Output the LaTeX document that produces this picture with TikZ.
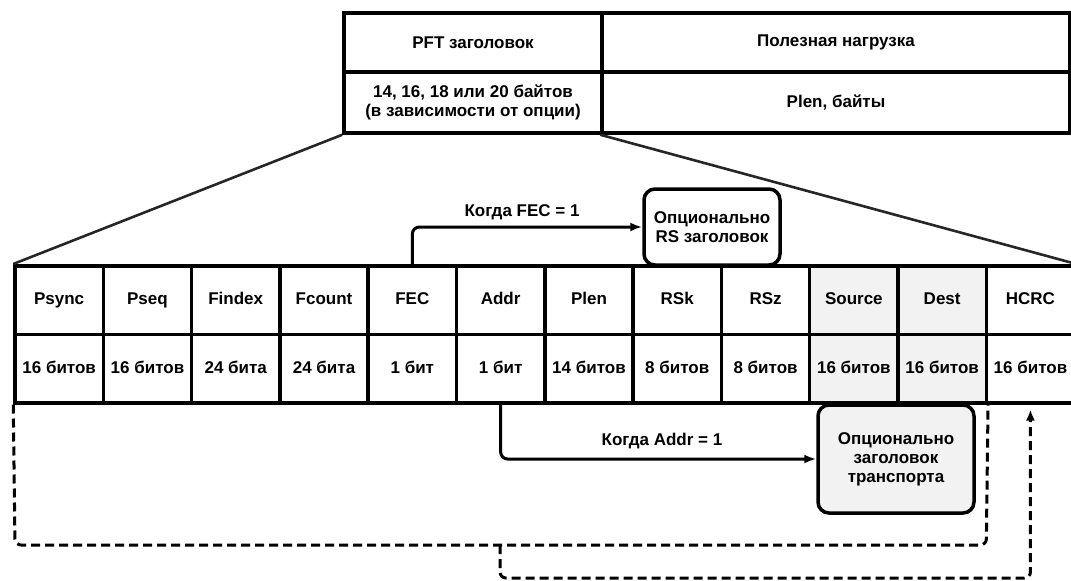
\documentclass[tikz,border=0pt]{standalone}
\usepackage{fontspec}
\setmainfont{Liberation Sans}
\usetikzlibrary{arrows.meta}
\begin{document}
\begin{tikzpicture}[x=1pt,y=-1pt,
  txt/.style={font=\bfseries\fontsize{17}{19}\selectfont},
  cell/.style={draw, line width=3.5pt, inner sep=0pt, align=center, txt},
  mcell/.style={cell, minimum width=88.3pt, minimum height=68.5pt, text height=12.5pt, text depth=3.5pt},
  shade/.style={fill=gray!10},
  optbox/.style={draw, line width=3.5pt, rounded corners=11pt, align=center, inner sep=0pt, txt},
  conn/.style={line width=3pt, rounded corners=7pt, -{Latex[length=12pt,width=9pt]}},
  dashline/.style={line width=3pt, dash pattern=on 9pt off 5pt, rounded corners=6pt},
  fan/.style={line width=2.6pt, black!85}
]
\useasboundingbox (0,0) rectangle (1071,581);

% top table
\node[cell, minimum width=258pt, minimum height=59pt] (pfth) at (473,42.5) {PFT заголовок};
\node[cell, minimum width=468pt, minimum height=59pt] (payh) at (836,42.5) {Полезная нагрузка};
\node[cell, minimum width=258pt, minimum height=61pt] (pftv) at (473,102.5) {14, 16, 18 или 20 байтов\\(в зависимости от опции)};
\node[cell, minimum width=468pt, minimum height=61pt] (payv) at (836,102.5) {Plen, байты};

% main table
\foreach \n/\lab/\val/\s [count=\i from 0] in {
  psync/Psync/16 битов/,
  pseq/Pseq/16 битов/,
  findex/Findex/24 бита/,
  fcount/Fcount/24 бита/,
  fec/FEC/1 бит/,
  addr/Addr/1 бит/,
  plen/Plen/14 битов/,
  rsk/RSk/8 битов/,
  rsz/RSz/8 битов/,
  source/Source/16 битов/shade,
  dest/Dest/16 битов/shade,
  hcrc/HCRC/16 битов/}
{
  \node[mcell,\s] (\n) at ({15+88.3*\i+44.15},300) {\lab};
  \node[mcell,\s] (\n2) at ({15+88.3*\i+44.15},368.5) {\val};
}

% fan lines
\draw[fan] (pftv.south west) -- (psync.north west);
\draw[fan] (payv.south west) -- (hcrc.north east);

% optional boxes
\node[optbox, fill=white, minimum width=136pt, minimum height=76pt] (rs) at (712,227) {Опционально\\RS заголовок};
\node[optbox, shade, minimum width=156pt, minimum height=108pt] (tr) at (896,459) {Опционально\\заголовок\\транспорта};

% connectors
\draw[conn] (fec.north) |- (rs.west);
\node[txt] (lfec) at (522,212) {Когда FEC = 1};
\draw[conn] (addr2.south) |- (tr.west);
\node[txt] (laddr) at (662,441) {Когда Addr = 1};

% dashed brackets
\coordinate (bl) at (15,545);
\coordinate (br) at (986.3,545);
\coordinate (mid) at (500,545);
\coordinate (b2) at (500,578);
\draw[dashline] (psync2.south west) -- (bl) -- (br) -- (dest2.south east);
\draw[dashline, -{Latex[length=11pt,width=9pt]}, shorten >=5pt] (mid) -- (b2) -| (hcrc2.south);
\end{tikzpicture}
\end{document}
